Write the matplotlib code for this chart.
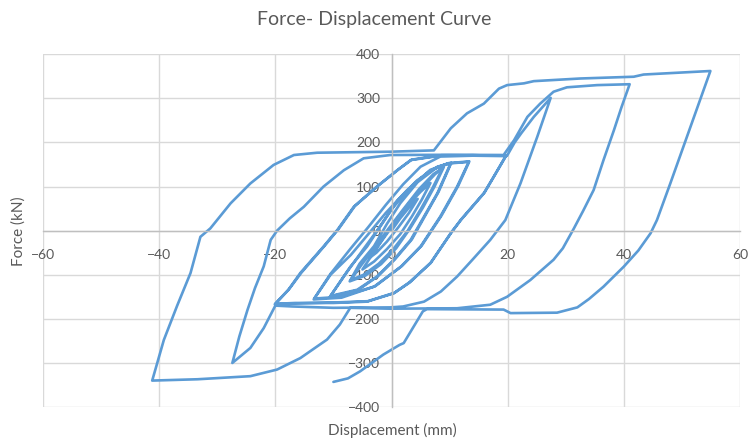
import matplotlib
matplotlib.use("Agg")
import matplotlib.pyplot as plt

LINE_COLOR = "#5B9BD5"
TEXT_COLOR = "#595959"
GRID_COLOR = "#D9D9D9"

# small cycles (~ +/-4 to +/-9 mm)
cyc1_x = [0, 1.5, 3, 4.5, 3, 1.2, -0.8, -2.6, -3.8]
cyc1_y = [0, 28, 52, 72, 40, 8, -25, -50, -62]
cyc2_x = [-2.5, -1, 1, 3, 5, 6.7, 5.2, 3.5, 1.5, -0.8, -3, -5]
cyc2_y = [-38, -8, 28, 60, 88, 108, 70, 32, -8, -42, -70, -88]
cyc3_x = [-3.5, -1.5, 0.8, 3, 5.5, 7.5, 8.8, 7, 5, 2.8, 0.3, -2.2, -4.8, -7]
cyc3_y = [-58, -20, 22, 62, 100, 128, 142, 95, 48, 0, -42, -75, -100, -112]
cyc3b_x = [-5.3, -3, -0.5, 2, 4.8, 7.2, 9, 7.4, 5.4, 3.2, 0.8, -1.8, -4.5, -7.2]
cyc3b_y = [-80, -40, 5, 48, 95, 128, 144, 100, 52, 5, -40, -76, -102, -115]

# +/-10 mm cycles
cyc4_x = [-5.5, -3, -0.8, 1.5, 4.5, 7.8, 10.2, 7.9, 5.6, 3.3, 0.4, -2.5, -5.9, -10.5]
cyc4_y = [-75, -35, 15, 62, 110, 143, 153, 85, 32, -21, -66, -104, -134, -148]
cyc4b_x = [-7.1, -4.2, -1.3, 1, 4.4, 7.9, 10.3, 8.1, 5.8, 3.5, 0.6, -2.3, -5.8, -10.6]
cyc4b_y = [-82, -36, 22, 68, 114, 145, 154, 88, 34, -20, -65, -103, -135, -150]

# +/-13 mm cycles
cyc5_x = [-8, -5, -2.5, 0, 3, 6.7, 9.6, 13.3, 11.3, 8.4, 5, 1.6, -3, -8.8, -13.3]
cyc5_y = [-100, -45, 0, 48, 95, 138, 152, 156, 100, 32, -36, -82, -127, -150, -154]
cyc5b_x = [-10.5, -7, -4, -1, 2.7, 6.5, 9.8, 13.4, 11.5, 8.6, 5.2, 1.8, -2.8, -8.6, -13.4]
cyc5b_y = [-100, -55, -8, 40, 92, 135, 153, 157, 102, 34, -34, -80, -126, -152, -156]

# +/-20 mm cycles
cyc6_x = [-10.5, -7, -4, -1, 2, 5, 8.4, 14, 19.7, 17.5, 15.9, 11.9, 10.2, 6.7, 3,
          0.4, -4.2, -10, -16.6, -20]
cyc6_y = [-98, -40, 8, 58, 105, 145, 168, 170, 169, 120, 85, 24, -6, -74, -118,
          -142, -161, -164, -164, -166]
cyc6b_x = [-17.8, -15.7, -11.7, -9.3, -6.5, -2.5, 1, 3.3, 8.4, 14, 19.7, 17.6, 16,
           12, 10.3, 6.8, 3.2, 0.5, -4.1, -10, -16.6, -20.1]
cyc6b_y = [-135, -96, -36, 2, 54, 100, 137, 160, 170, 171, 170, 122, 86, 25, -4,
           -72, -117, -141, -160, -163, -165, -167]
cyc6c_x = [-17.6, -15.5, -11.5, -9.1, -6.3, -2.3, 1.2, 3.5, 8.6, 14, 19.9]
cyc6c_y = [-132, -95, -34, 4, 56, 102, 139, 161, 171, 171, 170]

# 27 mm cycle
cyc7_x = [21.2, 22.4, 24.5, 27.4, 26.2, 25.1, 22.2, 19.6, 17, 14, 11.3, 8.5, 5.6, 2,
          -0.2, -10, -17, -20, -22, -24.3, -27.4]
cyc7_y = [200, 222, 258, 301, 255, 213, 107, 24, -21, -65, -104, -138, -161, -172,
          -174, -175, -172, -170, -221, -266, -300]

# 41 mm cycle
cyc8_x = [-26.2, -24.8, -23.5, -22, -20.8, -19.7, -17.5, -15.1, -11.7, -8.2, -4.8,
          -0.2, 10, 19.3, 21.1, 23.4, 25.6, 27.9, 30.2, 35.4, 41,
          39.6, 38.3, 36.5, 34.8, 33, 31.4, 29.5, 27.9, 23.9, 19.9, 17, 11.3, -0.2,
          -7.1, -8.9, -11.1, -15.7, -19.7, -24.3, -33.4, -41.2]
cyc8_y = [-240, -180, -130, -81, -21, 0, 28, 54, 100, 137, 164,
          171.5, 172, 171.5, 205, 258, 288, 315, 325, 330, 332,
          280, 228, 160, 92, 45, 5, -40, -66, -112, -150, -168, -176, -177,
          -175, -213, -247, -289, -315, -330, -337, -340]

# 55 mm cycle (last)
cyc9_x = [-39.2, -36.9, -34.6, -32.9, -31.2, -27.7, -24.3, -20.3, -16.8, -12.8, -0.2,
          7.3, 10.2, 13, 15.9, 18.5, 19.9, 22.8, 24.5, 32.5, 41.7, 43.4, 52, 54.9,
          51.5, 48, 45.7, 44.6, 42.5, 40, 36.5, 34, 32, 28.5, 20.5, 19.3, 6.1, 5.4,
          2.1, 1.4, -1.4, -5.4, -7.5, -10]
cyc9_y = [-248, -170, -96, -14, 5, 62, 107, 149, 171.5, 176.7, 179,
          182, 232, 266, 288, 322, 330, 334, 339, 345, 349, 354, 360, 362,
          236, 107, 24, -6, -45, -81.5, -127, -155, -174, -186, -187, -179, -178, -183,
          -255, -259, -281, -319, -335, -343]

cycles_x = [cyc1_x, cyc2_x, cyc3_x, cyc3b_x, cyc4_x, cyc4b_x, cyc5_x, cyc5b_x,
            cyc6_x, cyc6b_x, cyc6c_x, cyc7_x, cyc8_x, cyc9_x]
cycles_y = [cyc1_y, cyc2_y, cyc3_y, cyc3b_y, cyc4_y, cyc4b_y, cyc5_y, cyc5b_y,
            cyc6_y, cyc6b_y, cyc6c_y, cyc7_y, cyc8_y, cyc9_y]

x_ticks = [-60, -40, -20, 0, 20, 40, 60]
y_ticks = [-400, -300, -200, -100, 0, 100, 200, 300, 400]


def main():
    plt.rcParams['font.family'] = ['Lato', 'DejaVu Sans']

    disp = [v for c in cycles_x for v in c]
    force = [v for c in cycles_y for v in c]

    fig = plt.figure(figsize=(7.48, 4.41), dpi=100)
    ax = fig.add_axes([0.0575, 0.077, 0.9318, 0.8])

    ax.plot(disp, force, color=LINE_COLOR, linewidth=1.9,
            solid_joinstyle='round', solid_capstyle='round')

    ax.set_xlim(-60, 60)
    ax.set_ylim(-400, 400)
    ax.set_xticks(x_ticks)
    ax.set_yticks(y_ticks)
    ax.grid(True, color=GRID_COLOR, linewidth=1.0)
    ax.set_axisbelow(True)

    # Excel style: axes cross at the origin
    ax.spines['left'].set_position('zero')
    ax.spines['bottom'].set_position('zero')
    ax.spines['top'].set_visible(False)
    ax.spines['right'].set_visible(False)
    for side in ['left', 'bottom']:
        ax.spines[side].set_color('#BFBFBF')
        ax.spines[side].set_linewidth(1.0)

    ax.tick_params(axis='both', length=0, labelsize=10, labelcolor=TEXT_COLOR)
    ax.tick_params(axis='x', pad=13)
    ax.tick_params(axis='y', pad=8)

    fig.text(0.5, 0.955, 'Force- Displacement Curve', ha='center', va='center',
             fontsize=14, color=TEXT_COLOR)
    fig.text(0.525, 0.025, 'Displacement (mm)', ha='center', va='center',
             fontsize=11, color=TEXT_COLOR)
    fig.text(0.025, 0.475, 'Force (kN)', ha='center', va='center', rotation=90,
             fontsize=11, color=TEXT_COLOR)

    fig.savefig('out.png', dpi=100)


main()
